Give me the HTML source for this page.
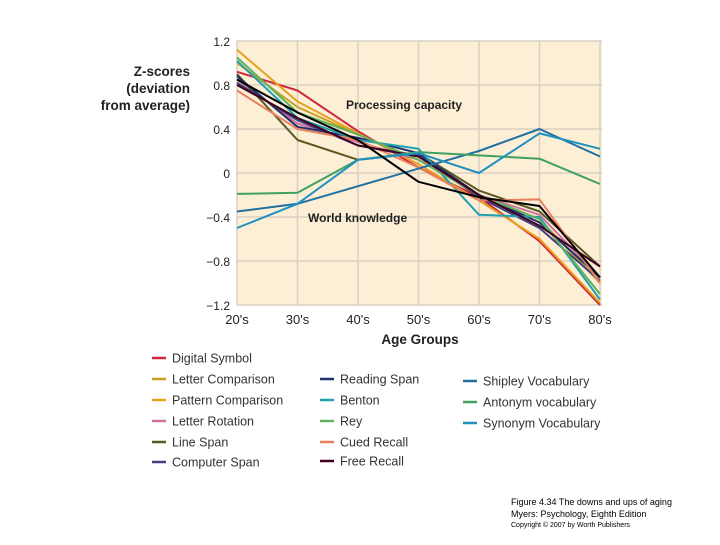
<!DOCTYPE html>
<html><head><meta charset="utf-8"><style>
body{margin:0;width:720px;height:540px;background:#fff;font-family:"Liberation Sans",sans-serif;overflow:hidden}
</style></head><body>
<svg width="720" height="540" id="svg" xmlns="http://www.w3.org/2000/svg"></svg>
<script>
const categories=["20's","30's","40's","50's","60's","70's","80's"];
const yTicks=[1.2,0.8,0.4,0,-0.4,-0.8,-1.2];
const yTickLabels=["1.2","0.8","0.4","0","\u22120.4","\u22120.8","\u22121.2"];
const seriesNames=["Digital Symbol","Letter Comparison","Pattern Comparison","Letter Rotation","Line Span","Computer Span","Reading Span","Benton","Rey","Cued Recall","Free Recall","Shipley Vocabulary","Antonym vocabulary","Synonym Vocabulary","Unlabeled"];
const digitalSymbol=[0.92,0.75,0.38,0.05,-0.22,-0.62,-1.2];
const letterComparison=[1.0,0.6,0.35,0.12,-0.2,-0.42,-1.0];
const patternComparison=[1.12,0.65,0.36,0.08,-0.25,-0.6,-1.18];
const letterRotation=[0.85,0.45,0.28,0.12,-0.2,-0.38,-0.95];
const lineSpan=[0.9,0.3,0.12,0.18,-0.16,-0.35,-0.85];
const computerSpan=[0.82,0.48,0.25,0.16,-0.22,-0.5,-0.98];
const readingSpan=[0.88,0.42,0.32,0.18,-0.2,-0.45,-0.95];
const benton=[1.02,0.5,0.3,0.22,-0.38,-0.4,-1.15];
const rey=[1.05,0.55,0.35,0.12,-0.2,-0.42,-1.1];
const cuedRecall=[0.75,0.4,0.3,0.05,-0.25,-0.24,-1.0];
const freeRecall=[0.8,0.5,0.25,0.15,-0.2,-0.48,-0.85];
const shipley=[-0.35,-0.28,-0.12,0.04,0.2,0.4,0.15];
const antonym=[-0.19,-0.18,0.12,0.19,0.16,0.13,-0.1];
const synonym=[-0.5,-0.28,0.12,0.18,0.0,0.36,0.22];
const unlabeled=[0.85,0.55,0.3,-0.08,-0.22,-0.3,-0.95];
const allSeries=[digitalSymbol,letterComparison,patternComparison,letterRotation,lineSpan,computerSpan,readingSpan,benton,rey,cuedRecall,freeRecall,shipley,antonym,synonym,unlabeled];
const colors=["#d0283c","#c8a020","#e8a020","#d070a0","#5a5a20","#404080","#203070","#20a0b0","#60b060","#e88060","#400020","#2070a0","#40a060","#2090c0","#000"];
const NS="http://www.w3.org/2000/svg";const svg=document.getElementById('svg');
function mk(t,a,txt){const e=document.createElementNS(NS,t);for(const k in a)e.setAttribute(k,a[k]);if(txt!=null)e.textContent=txt;svg.appendChild(e);return e;}
const X0=237,X1=600,Y0=41,Y1=305;
const xs=i=>X0+i*(X1-X0)/(categories.length-1);
const ys=v=>Y0+(1.2-v)*(Y1-Y0)/2.4;
let e=mk('rect',{x:X0,y:Y0,width:X1-X0+2,height:Y1-Y0,fill:'#fcefd6'});

categories.forEach((c,i)=>{e=mk('line',{x1:xs(i),x2:xs(i),y1:Y0,y2:Y1,stroke:'#d8d0c4','stroke-width':1.5});

e=mk('text',{x:xs(i),y:324,'text-anchor':'middle','font-size':13,fill:'#222'},c);
});
yTicks.forEach((v,i)=>{e=mk('line',{x1:X0,x2:X1+2,y1:ys(v),y2:ys(v),stroke:'#d8d0c4','stroke-width':1.5});

e=mk('text',{x:230,y:ys(v)+5,'text-anchor':'end','font-size':12,fill:'#222'},yTickLabels[i]);
});
allSeries.forEach((s,k)=>{e=mk('polyline',{points:s.map((v,i)=>xs(i)+','+ys(v)).join(' '),fill:'none',stroke:colors[k],'stroke-width':2,'stroke-linejoin':'round'});
});
[["Z-scores",76],["(deviation",93],["from average)",110]].forEach(t=>{e=mk('text',{x:190,y:t[1],'text-anchor':'end','font-size':13.5,'font-weight':'bold',fill:'#222'},t[0]);
});
e=mk('text',{x:420,y:344,'text-anchor':'middle','font-size':13.5,'font-weight':'bold',fill:'#222'},'Age Groups');

e=mk('text',{x:346,y:109,'font-size':12,'font-weight':'bold',fill:'#222'},'Processing capacity');

e=mk('text',{x:308,y:222,'font-size':12,'font-weight':'bold',fill:'#222'},'World knowledge');

const legendPos=[[152,358],[152,379],[152,400],[152,421],[152,442],[152,462],[320,379],[320,400],[320,421],[320,442],[320,461],[463,381],[463,402],[463,423]];
legendPos.forEach((p,k)=>{e=mk('line',{x1:p[0],x2:p[0]+14,y1:p[1],y2:p[1],stroke:colors[k],'stroke-width':2.5});

e=mk('text',{x:p[0]+20,y:p[1]+4.5,'font-size':12.5,fill:'#333'},seriesNames[k]);
});
[["Figure 4.34  The downs and ups of aging",505,9],["Myers: Psychology, Eighth Edition",517,9],["Copyright \u00a9 2007 by Worth Publishers",527,7]].forEach(t=>{e=mk('text',{x:511,y:t[1],'font-size':t[2],fill:'#000'},t[0]);
});
</script>
</body></html>
